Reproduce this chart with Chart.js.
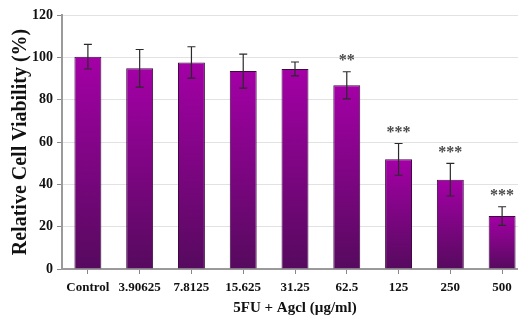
<!DOCTYPE html>
<html>
<head>
<meta charset="utf-8">
<script src="https://cdn.jsdelivr.net/npm/chart.js@4"></script>
<style>
  html, body { margin: 0; padding: 0; background: #fff; overflow: hidden; }
  #wrap { width: 528px; height: 325px; }
</style>
</head>
<body>
<div id="wrap"><canvas id="c" width="528" height="325"></canvas></div>
<script>
// Concentrations of 5FU + AgCl tested (µg/ml)
const categories = ['Control', '3.90625', '7.8125', '15.625', '31.25', '62.5', '125', '250', '500'];
// Mean relative cell viability (%)
const viability = [100.3, 94.8, 97.6, 93.5, 94.5, 86.8, 51.8, 42.2, 25.0];
// Standard deviation of each mean
const errors = [5.8, 8.9, 7.4, 8.0, 3.3, 6.4, 7.5, 7.7, 4.4];
// Significance marks versus control
const significance = ['', '', '', '', '', '**', '***', '***', '***'];
const yTicks = [0, 20, 40, 60, 80, 100, 120];

const SERIF = '"Liberation Serif", "Times New Roman", serif';

// Per-bar vertical gradient: bright magenta on top, dark plum at the base
function barGradient(context) {
  const chart = context.chart;
  const { ctx, chartArea, scales } = chart;
  if (!chartArea || !scales.y) return '#8a0a90';
  const v = context.raw;
  const top = scales.y.getPixelForValue(v);
  const base = scales.y.getPixelForValue(0);
  const g = ctx.createLinearGradient(0, top, 0, base);
  g.addColorStop(0, '#a400a6');
  g.addColorStop(1, '#560a5e');
  return g;
}

// Draws the error bars and the significance asterisks above each bar
const errorBarPlugin = {
  id: 'errorBars',
  afterDatasetsDraw(chart) {
    const { ctx, scales } = chart;
    const meta = chart.getDatasetMeta(0);
    ctx.save();
    meta.data.forEach((bar, i) => {
      const x = bar.x;
      const yHi = scales.y.getPixelForValue(viability[i] + errors[i]);
      const yLo = scales.y.getPixelForValue(viability[i] - errors[i]);
      ctx.strokeStyle = '#2a2a2a';
      ctx.lineWidth = 1.2;
      ctx.beginPath();
      ctx.moveTo(x, yHi); ctx.lineTo(x, yLo);
      ctx.moveTo(x - 4, yHi); ctx.lineTo(x + 4, yHi);
      ctx.moveTo(x - 4, yLo); ctx.lineTo(x + 4, yLo);
      ctx.stroke();
      if (significance[i]) {
        ctx.fillStyle = '#4a4a4a';
        ctx.font = 'bold 16px ' + SERIF;
        ctx.textAlign = 'center';
        ctx.textBaseline = 'bottom';
        ctx.fillText(significance[i], x, yHi - 3);
      }
    });
    ctx.restore();
  }
};

new Chart(document.getElementById('c'), {
  type: 'bar',
  data: {
    labels: categories,
    datasets: [{
      data: viability,
      backgroundColor: barGradient,
      borderColor: '#3e0842',
      borderWidth: 1,
      barPercentage: 0.52,
      categoryPercentage: 1.0
    }]
  },
  options: {
    responsive: false,
    animation: false,
    devicePixelRatio: 1,
    layout: { padding: { top: 15, left: 0, right: 0, bottom: 0 } },
    plugins: { legend: { display: false }, tooltip: { enabled: false } },
    scales: {
      x: {
        grid: { offset: false, drawOnChartArea: false, tickLength: 5, tickColor: '#888' },
        border: { color: '#9a9a9a', width: 2 },
        ticks: { color: '#111', font: { family: SERIF, size: 13, weight: 'bold' }, padding: 6, maxRotation: 0 },
        title: { display: true, text: '5FU + Agcl (µg/ml)', color: '#111', font: { family: SERIF, size: 15, weight: 'bold' }, padding: { top: 4, bottom: 8 } },
        afterFit(scale) { scale.height = 56; }
      },
      y: {
        min: 0, max: 120,
        afterBuildTicks(scale) { scale.ticks = yTicks.map(v => ({ value: v })); },
        grid: { color: '#e2e2e2', tickLength: 5, tickColor: '#888' },
        border: { color: '#9a9a9a', width: 2 },
        ticks: { color: '#111', font: { family: SERIF, size: 14, weight: 'bold' }, padding: 4 },
        title: { display: true, text: 'Relative Cell Viability (%)', color: '#111', font: { family: SERIF, size: 20, weight: 'bold' }, padding: { top: 9, bottom: 0 } },
        afterFit(scale) { scale.width = 62; }
      }
    }
  },
  plugins: [errorBarPlugin]
});
</script>
</body>
</html>
